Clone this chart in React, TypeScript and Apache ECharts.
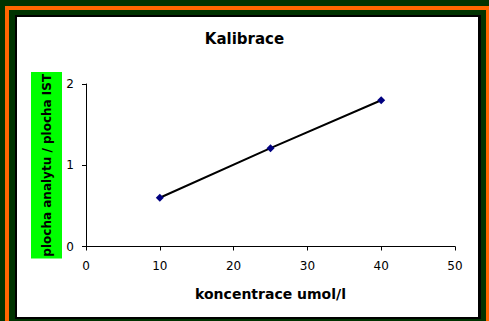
import React, { useEffect, useRef } from "react";
import * as echarts from "echarts";

const titleText = "Kalibrace";
const xAxisName = "koncentrace umol/l";
const yAxisName = "plocha analytu / plocha IST";
const concentrations = [10, 25, 40];
const ratios = [0.6, 1.21, 1.8];

export default function App() {
  const ref = useRef<HTMLDivElement>(null);
  useEffect(() => {
    if (!ref.current) return;
    const chart = echarts.init(ref.current, undefined, { renderer: "svg" });
    const font = "DejaVu Sans";
    chart.setOption({
      animation: false,
      backgroundColor: "#003300",
      graphic: [
        {
          type: "rect",
          z: -10,
          silent: true,
          shape: { x: 7, y: 8, width: 481, height: 400 },
          style: { fill: "none", stroke: "#ff6600", lineWidth: 4 },
        },
        {
          type: "rect",
          z: -10,
          silent: true,
          shape: { x: 15, y: 15, width: 466, height: 304 },
          style: { fill: "#000000" },
        },
        {
          type: "rect",
          z: -9,
          silent: true,
          shape: { x: 17, y: 17, width: 461, height: 300 },
          style: { fill: "#ffffff" },
        },
      ],
      title: {
        text: titleText,
        left: "center",
        top: 31,
        padding: 0,
        textStyle: { fontFamily: font, fontSize: 15, fontWeight: "bold", color: "#000" },
      },
      grid: { left: 86, right: 34, top: 84, bottom: 74.5, containLabel: false },
      xAxis: {
        type: "value",
        min: 0,
        max: 50,
        interval: 10,
        name: xAxisName,
        nameLocation: "middle",
        nameGap: 40,
        nameMoveOverlap: false,
        nameTextStyle: { fontFamily: font, fontSize: 14, fontWeight: "bold", color: "#000" },
        axisLine: { lineStyle: { color: "#000", width: 1 } },
        axisTick: { show: true, length: 4, lineStyle: { color: "#000" } },
        axisLabel: { fontFamily: font, fontSize: 12, color: "#000", margin: 13 },
        splitLine: { show: false },
      },
      yAxis: {
        type: "value",
        min: 0,
        max: 2,
        interval: 1,
        name: yAxisName,
        nameLocation: "middle",
        nameGap: 24,
        nameMoveOverlap: false,
        nameTextStyle: {
          fontFamily: font,
          fontSize: 12,
          fontWeight: "bold",
          color: "#000",
          backgroundColor: "#00ff00",
          padding: [9, 2, 8, 2],
          lineHeight: 14,
        },
        axisLine: { show: true, lineStyle: { color: "#000", width: 1 } },
        axisTick: { show: true, length: 4, lineStyle: { color: "#000" } },
        axisLabel: { fontFamily: font, fontSize: 12, color: "#000", margin: 12 },
        splitLine: { show: false },
      },
      series: [
        {
          type: "line",
          data: concentrations.map((c, i) => [c, ratios[i]]),
          symbol: "diamond",
          symbolSize: 8,
          showSymbol: true,
          itemStyle: { color: "#000080" },
          lineStyle: { color: "#000", width: 2 },
        },
      ],
    });
    return () => chart.dispose();
  }, []);
  return (
    <div
      ref={ref}
      style={{ position: "fixed", left: 0, top: 0, width: 489, height: 321 }}
    />
  );
}
